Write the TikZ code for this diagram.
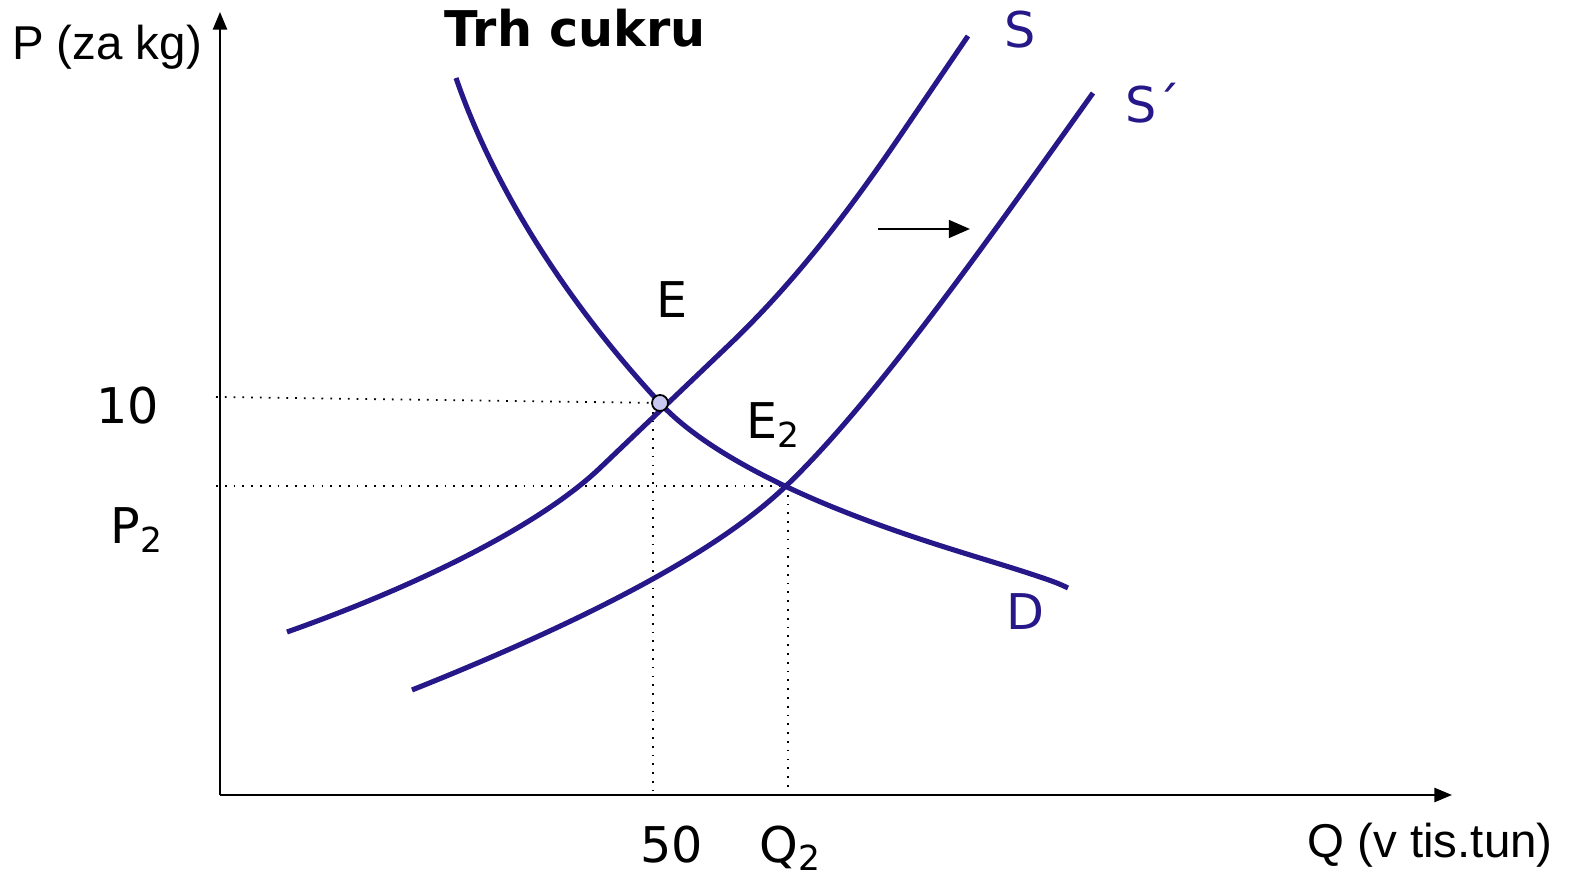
\documentclass[tikz,border=0pt]{standalone}
\usepackage{fontspec}
\setmainfont{DejaVu Sans}
\newfontfamily\arialfont{Liberation Sans}
\usetikzlibrary{arrows.meta}
\definecolor{curveblue}{RGB}{38,24,136}
\definecolor{dotfill}{RGB}{200,200,240}
\tikzset{
  curve/.style={curveblue, line width=1.45pt},
  guide/.style={dotted, line width=0.5pt},
  axis/.style={line width=0.6pt, -{Triangle[length=5pt,width=4pt]}},
  lbl/.style={font=\fontsize{14}{16}\selectfont},
  clbl/.style={font=\fontsize{14}{16}\selectfont, text=curveblue},
}
\begin{document}
\begin{tikzpicture}[x=0.01cm,y=-0.01cm]
  \useasboundingbox (0,0) rectangle (1569,877);
  % axes
  \coordinate (O) at (220,795);
  \draw[axis] (O) -- (220,12);
  \draw[axis] (O) -- (1452,795);
  % equilibrium points
  \coordinate (E) at (660,403);
  \coordinate (E2) at (786,486);
  % guide lines
  \draw[guide] (216,397) -- (E);
  \draw[guide] (653,403) -- (653,790);
  \draw[guide] (216,486) -- (E2);
  \draw[guide] (788,486) -- (788,788);
  % demand
  \draw[curve] (456,78) .. controls (512,240) and (625,365) .. (E)
    .. controls (695,441) and (760,478) .. (840,510)
    .. controls (920,542) and (990,560) .. (1040,577)
    .. controls (1052,581) and (1060,584) .. (1068,588);
  % supply S
  \draw[curve] (287,632) .. controls (420,585) and (540,525) .. (600,468)
    -- (730,344) .. controls (800,277) and (855,202) .. (900,136) -- (968,36);
  % supply S'
  \draw[curve] (412,690) .. controls (660,591) and (746,524) .. (E2)
    .. controls (876,400) and (993,233) .. (1093,93);
  \fill[dotfill, draw=black, line width=0.5pt] (E) circle (8);
  % shift arrow
  \draw[line width=0.8pt, -{Triangle[length=6pt,width=5pt]}] (878,229) -- (970,229);
  % labels
  \node[font=\bfseries\fontsize{14}{16}\selectfont] (title) at (575,28) {Trh cukru};
  \node[font=\arialfont\fontsize{13.5}{16}\selectfont] (ylab) at (107,47) {P (za kg)};
  \node[font=\arialfont\fontsize{13.5}{16}\selectfont] (xlab) at (1430,845) {Q (v tis.tun)};
  \node[lbl] (lE) at (672,300) {E};
  \node[lbl] (lE2) at (774,425) {E\textsubscript{2}};
  \node[lbl] (l10) at (128,406) {10};
  \node[lbl] (lP2) at (137,530) {P\textsubscript{2}};
  \node[lbl] (l50) at (672,845) {50};
  \node[lbl] (lQ2) at (791,848) {Q\textsubscript{2}};
  \node[clbl] (lS) at (1020,30) {S};
  \node[clbl] (lS2) at (1153,103) {S\,\'{}};
  \node[clbl] (lD) at (1025,612) {D};
\end{tikzpicture}
\end{document}
